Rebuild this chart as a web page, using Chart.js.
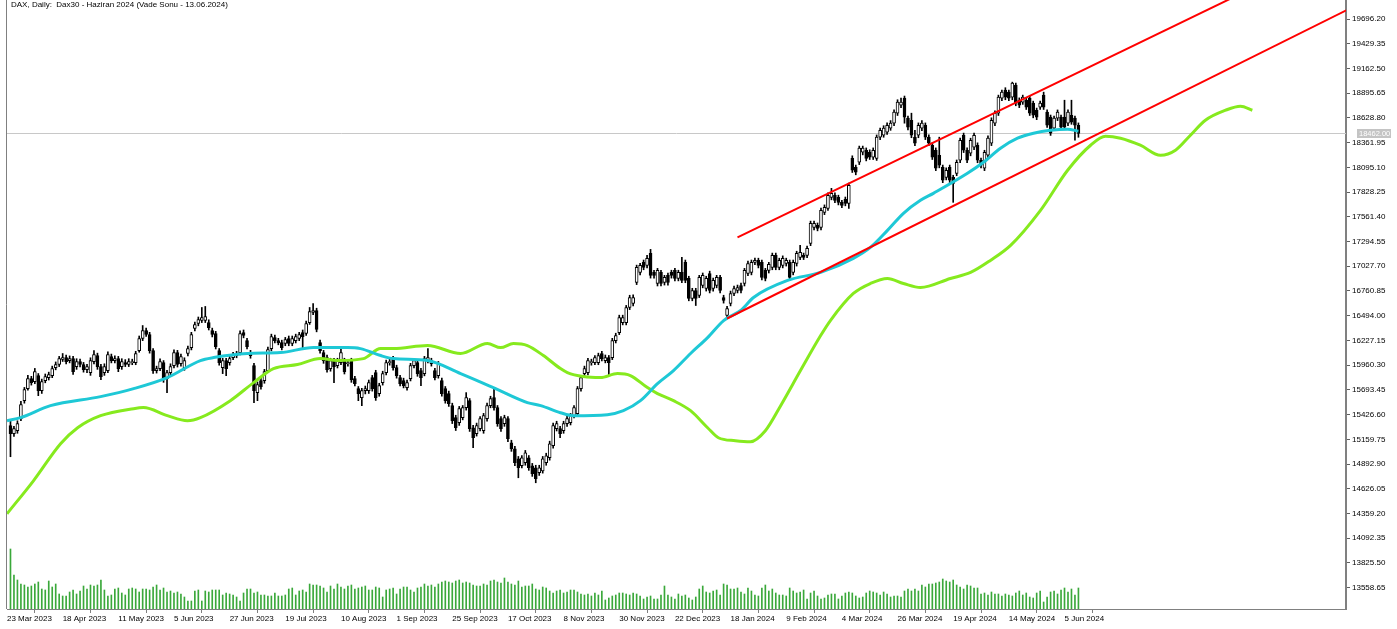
<!DOCTYPE html>
<html>
<head>
<meta charset="utf-8">
<script src="https://cdn.jsdelivr.net/npm/chart.js@4.4.1/dist/chart.umd.min.js"></script>
<style>
  html, body { margin: 0; padding: 0; background: #fff; }
  canvas { display: block; }
</style>
</head>
<body>
<canvas id="dax" width="1397" height="629"></canvas>
<script>
// DAX daily candles, 23 Mar 2023 - Jun 2024

const title = "DAX, Daily:  Dax30 - Haziran 2024 (Vade Sonu - 13.06.2024)";

// bar index of each date label on the time axis
const dateIdx = [0, 16, 32, 48, 64, 80, 96, 112, 128, 144, 160, 176, 192, 208, 224, 240, 256, 272, 288, 304];
const dateLabels = ["23 Mar 2023", "18 Apr 2023", "11 May 2023", "5 Jun 2023", "27 Jun 2023", "19 Jul 2023",
  "10 Aug 2023", "1 Sep 2023", "25 Sep 2023", "17 Oct 2023", "8 Nov 2023", "30 Nov 2023", "22 Dec 2023",
  "18 Jan 2024", "9 Feb 2024", "4 Mar 2024", "26 Mar 2024", "19 Apr 2024", "14 May 2024", "5 Jun 2024"];

// price axis labels
const priceTicks = [13558.65, 13825.50, 14092.35, 14359.20, 14626.05, 14892.90, 15159.75, 15426.60,
  15693.45, 15960.30, 16227.15, 16494.00, 16760.85, 17027.70, 17294.55, 17561.40, 17828.25, 18095.10,
  18361.95, 18628.80, 18895.65, 19162.50, 19429.35, 19696.20];
const lastPrice = 18462.00;

const opens = [15307,15221,15253,15383,15577,15707,15815,15783,15848,15685,15793,15826,15848,15934,15967,16021,
  16042,16010,16031,15945,15999,15967,15912,15880,15999,16064,15945,15880,15902,16053,16010,16031,15945,15988,
  15967,15988,15988,16118,16248,16334,16291,16118,15902,15923,15988,15815,15880,15956,16096,15977,15934,16086,
  16150,16356,16410,16442,16442,16420,16334,16302,16118,15934,16010,15988,16042,16064,16096,16312,16226,16096,
  15956,15664,15793,15793,15902,16139,16258,16226,16204,16194,16248,16194,16226,16248,16312,16302,16420,16529,
  16550,16204,16096,16042,15923,16010,15956,15988,16010,15977,16010,15815,15707,15610,15685,15685,15826,15880,
  15653,15772,15880,15988,16031,15934,15826,15793,15718,15815,15956,15988,15902,15869,16010,15977,15902,15848,
  15793,15707,15653,15523,15394,15339,15394,15502,15577,15285,15221,15275,15253,15383,15523,15610,15502,15383,
  15329,15383,15123,15058,14950,14875,14907,14961,14875,14853,14799,14820,14907,14961,15091,15275,15275,15253,
  15329,15339,15415,15437,15707,15869,15880,15988,15988,15988,16086,16010,16042,16042,16226,16312,16420,16420,
  16583,16626,16853,16961,17069,17037,17167,16961,16842,16961,16853,16929,16961,16983,16897,16961,17069,16897,
  16680,16766,16712,16820,16788,16950,16788,16820,16907,16691,16496,16626,16734,16766,16820,16842,16950,16961,
  17069,17091,17069,16983,16983,17015,17145,17015,17037,17058,17069,16961,17058,17124,17145,17145,17275,17448,
  17469,17448,17610,17653,17772,17793,17772,17718,17750,17707,18193,18096,18150,18258,18280,18258,18204,18193,
  18421,18442,18475,18518,18572,18680,18766,18842,18626,18604,18421,18442,18518,18550,18421,18334,18280,18226,
  18096,17988,18096,17988,18031,18172,18442,18280,18248,18312,18334,18172,18086,18226,18356,18572,18680,18842,
  18929,18907,18853,18983,18820,18799,18820,18842,18788,18712,18745,18875,18691,18637,18518,18626,18637,18637,
  18572,18658,18626,18550];
const highs = [15361,15300,15360,15570,15720,15850,15840,15925,15870,15810,15865,15885,15950,15995,16055,16086,
  16070,16060,16055,16030,16025,15990,15970,16040,16118,16090,15970,15975,16105,16080,16060,16055,16030,16020,
  16030,16025,16110,16275,16388,16360,16315,16140,15950,16030,16010,15905,15975,16125,16120,16080,16040,16165,
  16315,16425,16480,16583,16594,16450,16360,16325,16140,16035,16035,16060,16100,16110,16330,16340,16250,16120,
  15980,15780,15820,15915,16155,16295,16285,16250,16230,16260,16275,16275,16295,16315,16340,16435,16583,16626,
  16575,16230,16120,16070,16035,16035,16035,16139,16035,16015,16035,15840,15730,15710,15735,15800,15850,15905,
  15765,15895,16015,16030,16055,15960,15850,15820,15800,15980,16035,16010,15925,16055,16139,16035,15925,16000,
  15820,15730,15680,15550,15420,15515,15525,15664,15600,15310,15335,15405,15440,15550,15625,15707,15525,15405,
  15420,15405,15150,15085,14975,14985,15040,14985,14900,14880,14880,14975,15010,15140,15335,15355,15300,15355,
  15410,15440,15525,15730,15850,15950,16035,16025,16065,16090,16110,16070,16065,16250,16305,16500,16500,16605,
  16715,16720,17040,17060,17095,17145,17210,16985,17005,16985,16930,16955,16985,17005,16985,17123,17095,16920,
  16790,16790,16930,16955,16920,16975,16900,16930,16930,16715,16594,16760,16815,16825,16845,17005,17085,17095,
  17115,17115,17095,17005,17070,17170,17170,17115,17140,17115,17095,17095,17190,17253,17170,17245,17515,17515,
  17495,17655,17690,17820,17869,17820,17795,17740,17775,17925,18220,18120,18325,18325,18305,18285,18305,18445,
  18520,18545,18575,18600,18715,18825,18842,18865,18650,18680,18496,18575,18600,18575,18445,18360,18305,18421,
  18120,18090,18120,18010,18175,18410,18465,18305,18410,18465,18360,18195,18280,18435,18630,18705,18875,18930,
  18955,18930,19015,19005,18845,18875,18845,18865,18810,18735,18810,18907,18715,18660,18650,18715,18660,18820,
  18715,18820,18650,18575];
const lows = [14972,15190,15225,15360,15550,15690,15745,15760,15631,15655,15770,15800,15825,15910,15945,16000,
  15975,15985,15860,15915,15940,15885,15880,15850,15975,15915,15805,15850,15880,15985,15985,15890,15915,15945,
  15945,15965,15965,16100,16225,16270,16090,15870,15875,15900,15775,15664,15855,15930,15940,15950,15905,16060,
  16125,16330,16385,16420,16420,16340,16265,16135,15960,15869,15848,15960,16020,16040,16070,16255,16135,16035,
  15556,15577,15700,15765,15880,16115,16200,16180,16125,16170,16170,16170,16200,16225,16140,16280,16400,16505,
  16320,16090,15980,15885,15895,15772,15930,15965,15865,15950,15775,15735,15577,15523,15650,15655,15680,15580,
  15625,15745,15855,15960,15905,15820,15735,15715,15690,15790,15930,15840,15740,15845,15985,15950,15800,15820,
  15625,15550,15515,15330,15255,15310,15370,15475,15245,15069,15195,15250,15225,15355,15500,15475,15300,15245,
  15300,15135,15030,14875,14745,14850,14880,14825,14760,14691,14770,14795,14880,14935,15065,15250,15177,15225,
  15300,15315,15390,15410,15680,15845,15855,15960,15965,15965,16005,15985,15848,16020,16200,16290,16395,16395,
  16560,16600,16830,16935,16990,17010,16900,16900,16815,16815,16825,16825,16900,16870,16870,16850,16850,16655,
  16655,16604,16690,16795,16760,16740,16760,16795,16740,16630,16464,16600,16710,16740,16740,16815,16925,16935,
  17045,17010,16880,16870,16955,16990,16990,16990,17010,17030,16880,16935,17030,17100,17100,17120,17250,17420,
  17410,17420,17585,17630,17745,17715,17690,17660,17680,17653,18040,18015,18125,18230,18165,18180,18180,18170,
  18395,18420,18450,18495,18545,18655,18740,18572,18500,18415,18330,18415,18490,18395,18330,18180,18060,18090,
  17930,17960,17930,17718,18005,18145,18255,18145,18220,18285,18145,18090,18060,18200,18330,18545,18655,18815,
  18825,18815,18825,18760,18740,18775,18720,18655,18630,18610,18720,18720,18525,18440,18495,18600,18505,18505,
  18545,18560,18388,18420];
const closes = [15221,15275,15329,15534,15696,15815,15772,15891,15685,15783,15837,15858,15923,15967,16031,16042,
  15999,16031,15891,15999,15967,15912,15945,16010,16075,15945,15837,15945,16075,16010,16031,15923,15999,15967,
  15999,15999,16086,16248,16334,16291,16118,15902,15923,15999,15804,15880,15945,16096,15967,16053,16010,16139,
  16291,16399,16453,16475,16485,16366,16291,16161,15988,16010,15923,16031,16075,16086,16302,16280,16161,16064,
  15685,15750,15729,15891,16129,16269,16226,16204,16150,16237,16194,16248,16269,16291,16269,16410,16539,16550,
  16345,16118,16010,15912,16010,15945,16010,16096,15891,15988,15804,15761,15653,15685,15707,15772,15707,15610,
  15740,15869,15988,15999,15934,15848,15761,15740,15772,15956,16010,15869,15826,16031,16042,16010,15826,15977,
  15653,15577,15545,15361,15285,15491,15502,15610,15275,15177,15307,15383,15415,15523,15599,15502,15329,15275,
  15394,15166,15058,14907,14853,14961,15015,14853,14788,14734,14853,14950,14983,15112,15307,15329,15221,15329,
  15383,15415,15502,15707,15826,15923,16010,15999,16042,16064,16031,16042,15988,16226,16280,16475,16475,16583,
  16691,16691,17015,17037,17015,17113,16929,16929,16983,16842,16907,16853,16929,16897,16961,16875,16875,16680,
  16766,16680,16907,16929,16897,16766,16875,16907,16766,16658,16572,16734,16788,16799,16766,16983,17058,17069,
  17091,17037,16907,16897,17048,17145,17015,17091,17113,17091,16907,17069,17167,17178,17124,17221,17491,17491,
  17437,17631,17664,17793,17815,17739,17718,17685,17707,17902,18064,18042,18302,18302,18193,18204,18280,18421,
  18496,18518,18550,18572,18691,18799,18799,18637,18529,18442,18356,18550,18572,18421,18356,18204,18086,18118,
  17956,18064,17956,17923,18150,18388,18280,18172,18388,18442,18172,18118,18258,18410,18604,18680,18853,18907,
  18853,18842,19004,18788,18766,18853,18745,18680,18658,18637,18788,18745,18550,18464,18626,18691,18529,18529,
  18691,18583,18550,18462];
// tick volume, same units as the bar heights on the volume pane
const volumes = [60,34,29,25,24,22,23,25,27,20,19,28,22,25,15,13,
  13,17,19,15,18,23,20,24,23,24,29,19,
  13,14,20,21,16,14,20,21,20,17,
  20,20,19,22,24,19,21,17,18,16,17,15,
  12,8,8,18,19,8,18,17,
  19,19,19,14,16,15,14,12,8,16,
  20,20,16,17,14,14,13,13,16,13,13,14,20,21,
  14,18,19,17,25,24,24,23,21,17,23,20,
  25,22,20,23,24,20,21,22,23,19,19,22,21,12,19,20,21,
  15,20,22,22,19,17,21,22,25,23,24,22,25,27,28,27,
  26,28,29,26,27,26,24,23,23,25,24,28,29,27,26,31,
  27,25,24,28,22,23,23,25,20,19,22,21,
  18,16,18,19,16,17,19,19,17,15,14,15,13,16,14,18,
  9,11,13,14,16,16,15,14,16,15,13,10,12,13,10,10,14,
  23,14,12,10,15,13,14,11,9,12,20,23,
  17,16,18,19,14,25,24,20,20,21,17,15,
  21,18,14,13,21,24,18,20,16,14,14,13,
  21,18,16,17,19,10,16,18,13,10,11,14,
  15,15,10,13,16,17,16,13,11,12,16,18,
  17,16,14,17,15,12,13,13,12,18,20,18,
  20,18,24,22,25,25,26,27,30,28,27,29,24,22,20,24,
  23,21,21,15,16,14,17,15,15,13,15,14,13,16,18,14,
  16,12,11,16,18,7,12,17,18,15,19,21,17,20,14,21];

// moving averages (cyan one and the forward shifted green one), read at bar positions
const cyanIdx = [-1,2.9,11.5,25.9,35.4,45.1,54.6,58.4,68.1,77.6,87.1,96.9,100.6,106.4,110.1,119.9,129.4,138.8,148.6,
  152.4,158.1,161.8,171.6,176.2,181.1,186,190.6,195.5,200.4,205,209.9,213.6,223.4,232.9,242.3,247.2,252.1,256.7,
  261.6,265.3,275.1,279.7,284.6,289.5,294.1,299,303.9,307];
const cyanVal = [15361,15394,15523,15621,15707,15826,16010,16042,16086,16096,16150,16150,16139,16064,16031,16010,
  15869,15718,15556,15523,15447,15415,15426,15469,15577,15761,15902,16086,16258,16442,16550,16691,16875,16961,
  17113,17231,17415,17599,17739,17815,18031,18150,18302,18410,18464,18496,18507,18485];
const greenIdx = [-1,6.6,14.4,19.3,25.9,35.4,38.2,45.1,50.9,54.6,63.2,69.9,75.6,82.5,89.1,94,101.5,106.4,110.1,
  119.9,129.4,137.1,140.9,144.6,148.6,153.2,158.1,160.1,164.7,169.6,174.5,178.2,183.1,186,190.6,195.5,200.4,
  203.5,208.4,212.7,217,221.4,227.1,232.9,235.7,242.3,247.2,252.1,256.7,261.6,270.2,276,281.7,287.5,296.1,
  303.9,310.5,314.8,319.1,324.8,330.6,334.9,339.2,343.5,349.3,353.6,357];
const greenVal = [14356,14712,15112,15285,15415,15491,15502,15415,15361,15394,15577,15772,15923,15967,16031,16010,
  16031,16139,16139,16172,16086,16194,16150,16194,16172,16064,15923,15880,15837,15826,15869,15848,15718,15653,
  15577,15469,15285,15177,15145,15134,15253,15523,15902,16280,16442,16734,16842,16896,16842,16799,16896,16961,
  17091,17253,17631,18064,18334,18431,18410,18334,18226,18280,18442,18604,18712,18755,18712];

// trend channel
const upperIdx = [209, 384];
const upperVal = [17339, 20521];
const lowerIdx = [206, 384];
const lowerVal = [16464, 19790];

const pts = (xs, ys) => xs.map((x, i) => ({ x: x, y: ys[i] }));

const overlay = {
  id: 'overlay',
  beforeDatasetsDraw(chart) {
    const { ctx, chartArea, scales } = chart;
    const y = Math.round(scales.y.getPixelForValue(lastPrice)) + 0.5;
    ctx.save();
    ctx.strokeStyle = '#c8c8c8';
    ctx.lineWidth = 1;
    ctx.beginPath();
    ctx.moveTo(chartArea.left, y);
    ctx.lineTo(chartArea.right, y);
    ctx.stroke();
    ctx.restore();
  },
  afterDraw(chart) {
    const { ctx, chartArea, scales } = chart;
    ctx.save();
    // left frame line
    ctx.strokeStyle = '#808080';
    ctx.lineWidth = 1;
    ctx.beginPath();
    ctx.moveTo(chartArea.left - 0.5, 0);
    ctx.lineTo(chartArea.left - 0.5, chartArea.bottom);
    ctx.stroke();
    // title
    ctx.font = '8px "Liberation Sans"';
    ctx.fillStyle = '#000';
    ctx.textBaseline = 'middle';
    ctx.fillText(title, 11, 5);
    // last price tag
    const y = Math.round(scales.y.getPixelForValue(lastPrice));
    ctx.fillStyle = '#c4c4c4';
    ctx.fillRect(chartArea.right + 11, y - 4, 34, 9);
    ctx.font = '7.5px "Liberation Sans"';
    ctx.fillStyle = '#fff';
    ctx.fillText(lastPrice.toFixed(2), chartArea.right + 13, y + 0.5);
    ctx.restore();
  }
};

Chart.defaults.font.family = 'Liberation Sans';
Chart.defaults.font.size = 8;
Chart.defaults.color = '#000';

new Chart(document.getElementById('dax'), {
  type: 'bar',
  data: {
    datasets: [
      {
        type: 'line', data: pts(upperIdx, upperVal), borderColor: '#ff0000', borderWidth: 2,
        pointRadius: 0, order: 0, clip: 0
      },
      {
        type: 'line', data: pts(lowerIdx, lowerVal), borderColor: '#ff0000', borderWidth: 2,
        pointRadius: 0, order: 0, clip: 0
      },
      {
        type: 'line', data: pts(cyanIdx, cyanVal), borderColor: '#1ec8d6', borderWidth: 3,
        pointRadius: 0, cubicInterpolationMode: 'monotone', order: 1, clip: 0
      },
      {
        type: 'line', data: pts(greenIdx, greenVal), borderColor: '#86ea1e', borderWidth: 3,
        pointRadius: 0, cubicInterpolationMode: 'monotone', order: 1, clip: 0
      },
      {
        // candle bodies
        data: opens.map((o, i) => ({ x: i, y: [o, closes[i]] })),
        backgroundColor: opens.map((o, i) => closes[i] >= o ? '#ffffff' : '#000000'),
        borderColor: '#000', borderWidth: 1, borderSkipped: false,
        barThickness: 3, minBarLength: 1, grouped: false, order: 2
      },
      {
        // wicks
        data: lows.map((l, i) => ({ x: i, y: [l, highs[i]] })),
        backgroundColor: '#000', barThickness: 1, grouped: false, order: 3
      },
      {
        data: volumes.map((v, i) => ({ x: i, y: v })),
        yAxisID: 'yv', backgroundColor: '#3aa83a', barThickness: 1, grouped: false, order: 4
      }
    ]
  },
  options: {
    responsive: false,
    animation: false,
    devicePixelRatio: 1,
    layout: { padding: { left: 7, top: 0, right: 0, bottom: 0 } },
    plugins: { legend: { display: false }, tooltip: { enabled: false } },
    scales: {
      x: {
        type: 'linear', offset: false, min: -1, max: 383.92,
        grid: { drawOnChartArea: false, tickLength: 4, color: '#808080' },
        border: { color: '#808080', width: 1 },
        ticks: {
          autoSkip: false, maxRotation: 0, align: 'start', padding: 1, color: '#000',
          callback: (v, i) => dateLabels[i]
        },
        afterBuildTicks: s => { s.ticks = dateIdx.map(i => ({ value: i - 1 })); },
        afterFit: s => { s.height = 20; s.paddingLeft = 0; s.paddingRight = 0; }
      },
      y: {
        position: 'right', min: 13328.5, max: 19901.6,
        grid: { drawOnChartArea: false, tickLength: 4, color: '#606060' },
        border: { color: '#808080', width: 2 },
        ticks: { autoSkip: false, padding: 2, color: '#000', callback: v => v.toFixed(2) },
        afterBuildTicks: s => { s.ticks = priceTicks.map(p => ({ value: p })); },
        afterFit: s => { s.width = 51; s.paddingTop = 0; s.paddingBottom = 0; }
      },
      yv: {
        display: false, min: 0, max: 609,
        afterFit: s => { s.paddingTop = 0; s.paddingBottom = 0; }
      }
    }
  },
  plugins: [overlay]
});
</script>
</body>
</html>
